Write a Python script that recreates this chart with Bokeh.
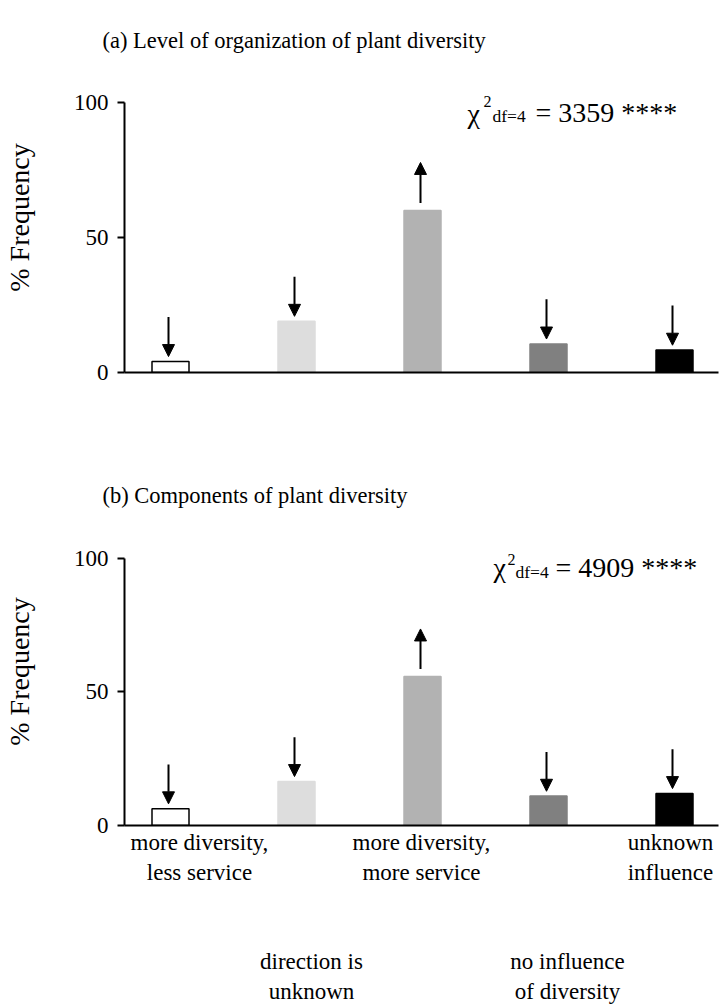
import numpy as np
from bokeh.plotting import figure
from bokeh.models import (Range1d, FixedTicker, Arrow, NormalHead, ColumnDataSource,
                          LinearAxis, Title)
from bokeh.core.properties import value
from bokeh.layouts import column
from bokeh.embed import file_html
from bokeh.resources import INLINE

# ---------------- data ----------------
categories = ["more diversity, less service", "direction is unknown",
              "more diversity, more service", "no influence of diversity",
              "unknown influence"]
tick_labels = ["more diversity,\nless service", "direction is\nunknown",
               "more diversity,\nmore service", "no influence\nof diversity",
               "unknown\ninfluence"]
label_row = [0, 1, 0, 1, 0]
freq_a = [4.1, 19.0, 60.0, 10.6, 8.3]
freq_b = [6.3, 16.5, 55.7, 11.0, 12.0]
direction_a = [-1, -1, 1, -1, -1]
direction_b = [-1, -1, 1, -1, -1]
bar_colors = ["#ffffff", "#dddddd", "#b2b2b2", "#808080", "#000000"]
bar_edges = ["#000000", "#dddddd", "#b2b2b2", "#808080", "#000000"]
y_ticks = [0, 50, 100]
chi_a = "3359"
chi_b = "4909"
df_value = 4
titles = ["(a) Level of organization of plant diversity",
          "(b) Components of plant diversity"]
y_label = "% Frequency"

# ---------------- layout constants (page pixels) ----------------
W = 720
FRAME_LEFT = 124
FRAME_RIGHT = 718
BAR1_X = 170
DX = 126.0
PXU = 2.7
FONT = "Liberation Serif"
LABEL_DX = [29, 15, -1, 19, -4]   # label centre offset from bar centre (px)

xs = np.arange(1, len(categories) + 1)
x_start = 1 + (FRAME_LEFT - BAR1_X) / DX
x_end = x_start + (FRAME_RIGHT - FRAME_LEFT) / DX


def make_panel(fig_h, top_border, frame_h, title, title_standoff, freq, direction,
               chi, chi_pos, with_labels):
    y_end = frame_h / PXU
    p = figure(width=W, height=fig_h, output_backend="svg", toolbar_location=None,
               x_range=Range1d(x_start, x_end), y_range=Range1d(0, y_end),
               min_border_left=FRAME_LEFT, min_border_right=W - FRAME_RIGHT,
               min_border_top=top_border,
               min_border_bottom=fig_h - frame_h - top_border,
               background_fill_color="white", border_fill_color="white")
    p.outline_line_color = None
    p.grid.visible = False

    p.title = Title(text=title, align="left", offset=102 - FRAME_LEFT,
                    text_font=FONT, text_font_size="22.5px", text_font_style="normal",
                    text_color="black", standoff=title_standoff)

    def xd(px):
        return 1 + (px - BAR1_X) / DX

    def yd(py):          # py measured from the top of the frame
        return (frame_h - py) / PXU

    # y axis
    ya = p.yaxis[0]
    ya.ticker = FixedTicker(ticks=y_ticks)
    ya.bounds = (0, 100)
    ya.axis_line_width = 2
    ya.axis_line_color = "black"
    ya.major_tick_line_width = 2
    ya.major_tick_line_color = "black"
    ya.major_tick_out = 7
    ya.major_tick_in = 0
    ya.minor_tick_line_color = None
    ya.major_label_standoff = 9
    ya.major_label_text_font = FONT
    ya.major_label_text_font_size = "23px"
    ya.major_label_text_color = "black"
    ya.axis_label = y_label
    ya.axis_label_text_font = FONT
    ya.axis_label_text_font_size = "28px"
    ya.axis_label_text_font_style = "normal"
    ya.axis_label_text_color = "black"
    ya.axis_label_standoff = 36

    # x axis (baseline) + category labels
    xa = p.xaxis[0]
    xa.axis_line_width = 2
    xa.axis_line_color = "black"
    xa.major_tick_line_color = None
    xa.minor_tick_line_color = None
    xa.major_tick_out = 0
    xa.major_tick_in = 0
    if with_labels:
        pos = [round(float(xs[i] + LABEL_DX[i] / DX), 3) for i in range(len(xs))]
        r0 = [i for i in range(len(xs)) if label_row[i] == 0]
        r1 = [i for i in range(len(xs)) if label_row[i] == 1]
        xa.ticker = FixedTicker(ticks=[pos[i] for i in r0])
        xa.major_label_overrides = {pos[i]: tick_labels[i] for i in r0}
        xa.major_label_standoff = 4
        xa.major_label_text_font = FONT
        xa.major_label_text_font_size = "23px"
        xa.major_label_text_line_height = 1.2
        xa.major_label_text_color = "black"
        xb = LinearAxis(ticker=FixedTicker(ticks=[pos[i] for i in r1]),
                        major_label_overrides={pos[i]: tick_labels[i] for i in r1},
                        axis_line_color=None, major_tick_line_color=None,
                        minor_tick_line_color=None, major_tick_out=0, major_tick_in=0,
                        major_label_standoff=61, major_label_text_font=FONT,
                        major_label_text_font_size="23px",
                        major_label_text_line_height=1.2,
                        major_label_text_color="black")
        p.add_layout(xb, "below")
    else:
        xa.ticker = FixedTicker(ticks=[])

    # bars
    src = ColumnDataSource(dict(x=xs, top=freq, color=bar_colors, edge=bar_edges))
    p.vbar(x="x", top="top", width=37 / DX, source=src, fill_color="color",
           line_color="edge", line_width=1.5)

    # arrows
    f = np.array(freq, dtype=float)
    d = np.array(direction)
    tail = np.where(d < 0, f + 16.5, f + 2.8)
    tip = np.where(d < 0, f + 1.8, f + 17.8)
    asrc = ColumnDataSource(dict(x=xs - 2 / DX, y0=tail, y1=tip))
    p.add_layout(Arrow(end=NormalHead(size=12, fill_color="black", line_color="black",
                                      line_width=1),
                       x_start="x", y_start="y0", x_end="x", y_end="y1",
                       source=asrc, line_width=2, line_color="black"))

    # chi-square annotation (text glyphs inside the frame)
    (cx, cb), (sx, sb), (dx_, db), (ex, eb) = chi_pos
    p.text(x=[xd(cx)], y=[yd(cb)], text=["\u03c7"], text_font=value(FONT),
           text_font_size=value("28px"), text_color="black", text_baseline="alphabetic")
    p.text(x=[xd(sx)], y=[yd(sb)], text=["2"], text_font=value(FONT),
           text_font_size=value("16px"), text_color="black", text_baseline="alphabetic")
    p.text(x=[xd(dx_)], y=[yd(db)], text=["df=%d" % df_value], text_font=value(FONT),
           text_font_size=value("17.5px"), text_color="black",
           text_baseline="alphabetic")
    p.text(x=[xd(ex)], y=[yd(eb)], text=["= %s ****" % chi], text_font=value(FONT),
           text_font_size=value("28px"), text_color="black", text_baseline="alphabetic")
    return p


# page layout: chart a 0-470 (frame 62-372), chart b 470-1006 (frame 517-828)
p1 = make_panel(470, 62, 310, titles[0], 20, freq_a, direction_a, chi_a,
                [(467, 113 - 62), (483, 101 - 62), (492, 115 - 62), (535, 112 - 62)],
                False)
p2 = make_panel(536, 47, 311, titles[1], 19, freq_b, direction_b, chi_b,
                [(493, 567 - 517), (507, 559 - 517), (515, 572 - 517), (555, 567 - 517)],
                True)

layout = column(p1, p2, spacing=0)
open("out.html", "w").write(file_html(layout, INLINE))
